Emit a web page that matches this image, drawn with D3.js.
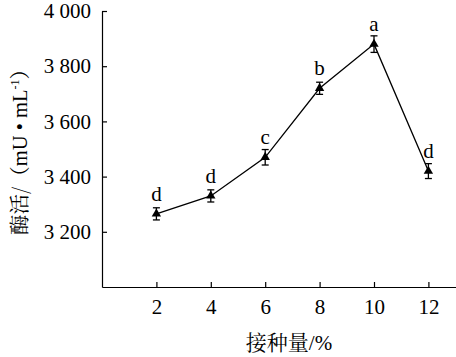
<!DOCTYPE html>
<html><head><meta charset="utf-8">
<script src="https://cdn.jsdelivr.net/npm/d3@7"></script>
<style>
html,body{margin:0;padding:0;background:#fff;}
svg{display:block;}
text{font-family:"Liberation Serif","Times New Roman",serif;fill:#000;}
.cjk{font-family:"Noto Serif CJK SC","Noto Sans CJK SC",serif;}
</style></head><body>
<script>
const inoculum = [2, 4, 6, 8, 10, 12];
const activity = [3265, 3330, 3470, 3720, 3880, 3420];
const errors = [22, 22, 28, 22, 30, 27];
const letters = ["d", "d", "c", "b", "a", "d"];
const yTicks = [3200, 3400, 3600, 3800, 4000];
const xTicks = [2, 4, 6, 8, 10, 12];
const xLabel = "接种量/%";

const W = 456, H = 357;
const svg = d3.select("body").append("svg").attr("width", W).attr("height", H);

const x = d3.scaleLinear().domain([0, 13]).range([102, 455.6]);
const y = d3.scaleLinear().domain([3000, 4000]).range([287, 11]);

const fmt = v => { const s = String(v); return s.slice(0, s.length - 3) + " " + s.slice(-3); };

// X axis
const gx = svg.append("g").attr("transform", `translate(0,${y(3000)})`)
  .call(d3.axisBottom(x).tickValues(xTicks).tickSizeInner(-5).tickSizeOuter(0).tickPadding(12).tickFormat(d3.format("d")));
gx.select(".domain").attr("stroke", "#000").attr("stroke-width", 1.2);
gx.selectAll(".tick line").attr("stroke", "#000").attr("stroke-width", 1.2);
gx.selectAll(".tick text").attr("font-size", 21).attr("font-family", "Liberation Serif").attr("fill", "#000");

// Y axis
const gy = svg.append("g").attr("transform", `translate(${x(0)},0)`)
  .call(d3.axisLeft(y).tickValues(yTicks).tickSizeInner(-5).tickSizeOuter(0).tickPadding(11).tickFormat(fmt));
gy.select(".domain").attr("stroke", "#000").attr("stroke-width", 1.2);
gy.selectAll(".tick line").attr("stroke", "#000").attr("stroke-width", 1.2);
gy.selectAll(".tick text").attr("font-size", 21).attr("font-family", "Liberation Serif").attr("fill", "#000");

const data = inoculum.map((d, i) => ({x: d, y: activity[i], e: errors[i], l: letters[i]}));

// line
svg.append("path").datum(data)
  .attr("fill", "none").attr("stroke", "#000").attr("stroke-width", 1.3)
  .attr("d", d3.line().x(d => x(d.x)).y(d => y(d.y)));

// error bars
const eb = svg.append("g").attr("stroke", "#000").attr("stroke-width", 1.3);
data.forEach(d => {
  const cx = x(d.x), t = y(d.y + d.e), b = y(d.y - d.e);
  eb.append("line").attr("x1", cx).attr("x2", cx).attr("y1", t).attr("y2", b);
  eb.append("line").attr("x1", cx - 3.5).attr("x2", cx + 3.5).attr("y1", t).attr("y2", t);
  eb.append("line").attr("x1", cx - 3.5).attr("x2", cx + 3.5).attr("y1", b).attr("y2", b);
});

// markers
svg.append("g").selectAll("path").data(data).join("path")
  .attr("transform", d => `translate(${x(d.x)},${y(d.y)})`)
  .attr("d", d3.symbol().type(d3.symbolTriangle).size(38))
  .attr("fill", "#000");

// letters
svg.append("g").selectAll("text").data(data).join("text")
  .attr("x", d => x(d.x)).attr("y", d => y(d.y) - 13)
  .attr("text-anchor", "middle").attr("font-size", 21)
  .text(d => d.l);

// X label
svg.append("text").attr("x", 289).attr("y", 350).attr("text-anchor", "middle")
  .attr("font-size", 21)
  .html(`<tspan class="cjk">接种量</tspan><tspan>/%</tspan>`);

// Y label
const yl = svg.append("text").attr("transform", "translate(27,147) rotate(-90)")
  .attr("text-anchor", "middle").attr("font-size", 20.5);
yl.append("tspan").attr("class", "cjk").text("酶活/（");
yl.append("tspan").text("mU • mL");
yl.append("tspan").attr("font-size", 12).attr("dy", -8).text("-1");
yl.append("tspan").attr("class", "cjk").attr("dy", 8).text("）");
</script>
</body></html>
